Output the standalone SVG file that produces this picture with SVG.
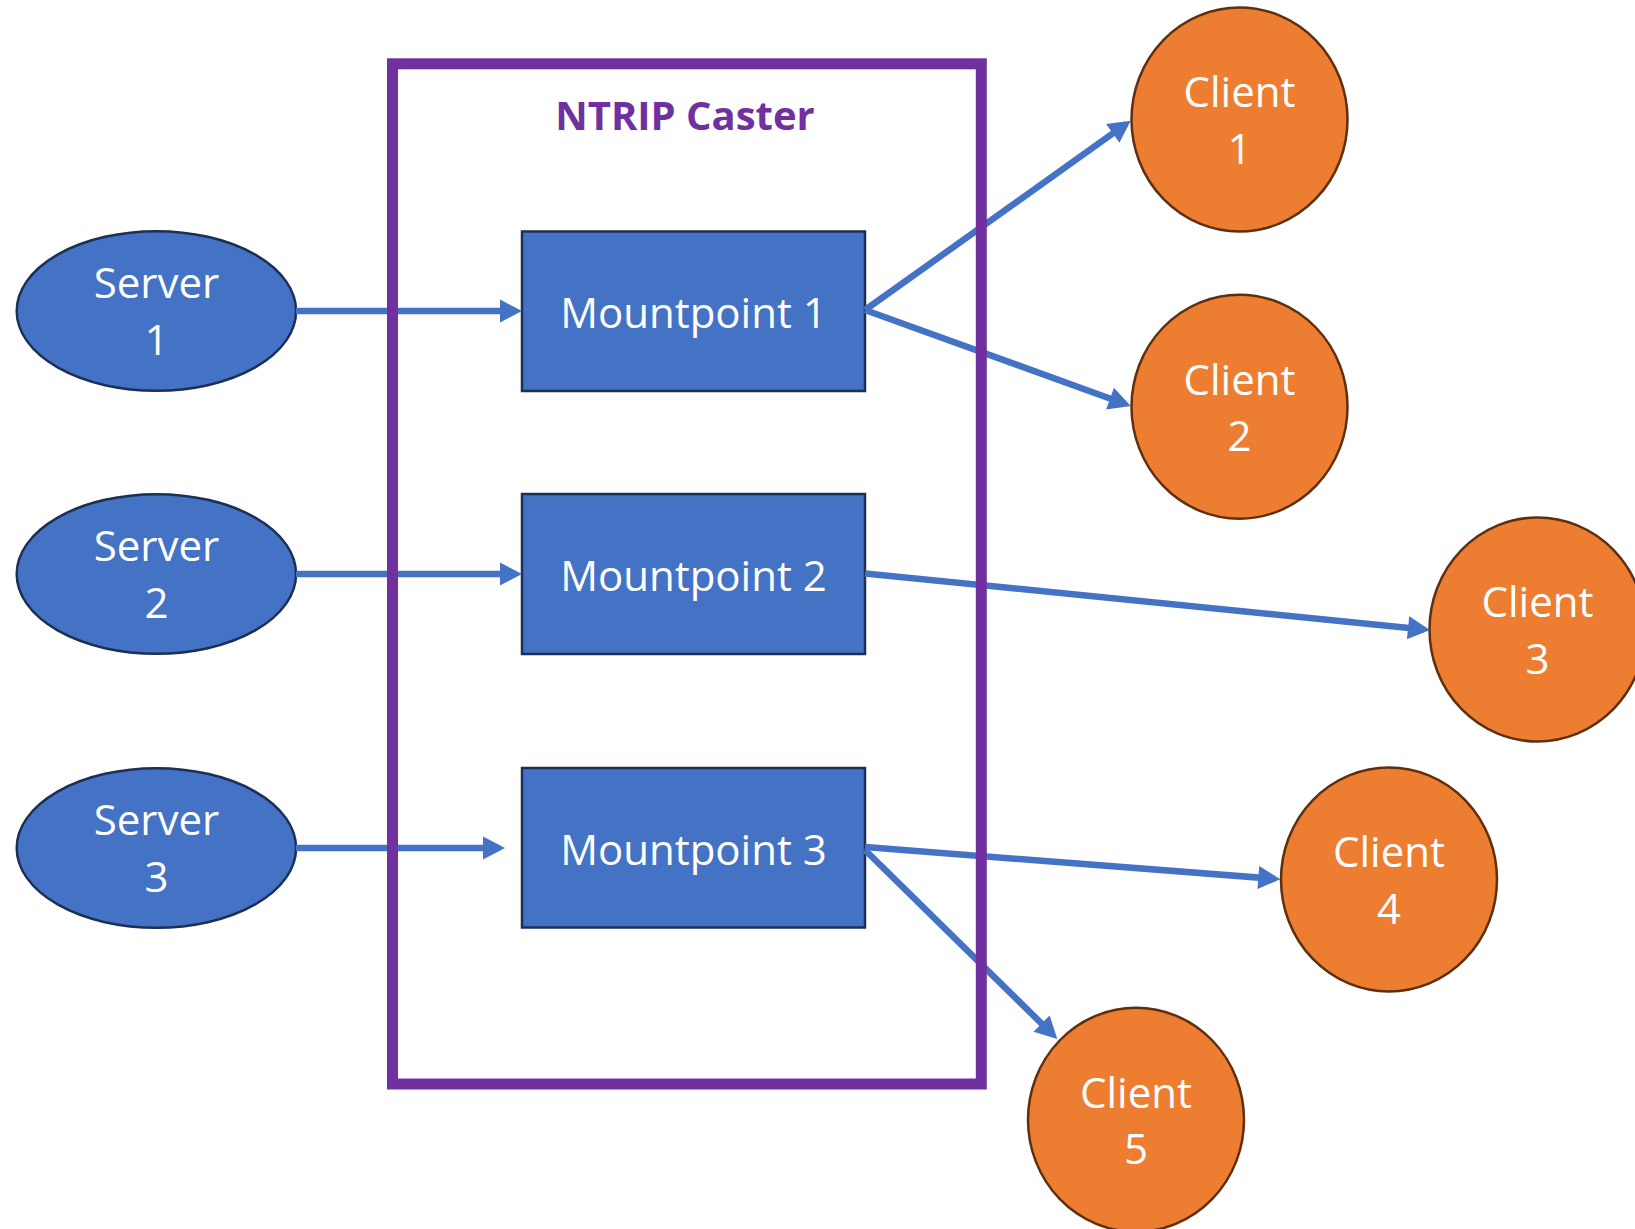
<svg xmlns="http://www.w3.org/2000/svg" width="1635" height="1229" viewBox="0 0 1635 1229">
<style>
.bg{fill:#ffffff}
.server ellipse{fill:#4472C4;stroke:#1c2f55;stroke-width:2.5}
.mp rect{fill:#4472C4;stroke:#1c2f55;stroke-width:2.5}
.client ellipse{fill:#ED7D31;stroke:#5f2f0e;stroke-width:2.5}
.lbl{font-family:"Open Sans","Noto Sans",sans-serif;font-size:42px;fill:#ffffff;text-anchor:middle}
.title{font-family:"Open Sans","Noto Sans",sans-serif;font-size:40px;font-weight:bold;fill:#7030A0;text-anchor:middle}
.conn line{stroke:#4472C4;stroke-width:6.5;fill:none;marker-end:url(#arr)}
.caster rect{fill:none;stroke:#7030A0;stroke-width:11}
</style>
<defs>
<marker id="arr" markerUnits="userSpaceOnUse" markerWidth="24" markerHeight="24" refX="16" refY="12" orient="auto" overflow="visible">
<path d="M0,0.5 L22,12 L0,23.5 Z" fill="#4472C4"/>
</marker>
</defs>
<rect class="bg" x="0" y="0" width="1635" height="1229"/>

<g id="server1" class="server"><ellipse cx="156.4" cy="311" rx="139.7" ry="79.8"/><text class="lbl" x="156.4" y="298.3">Server</text><text class="lbl" x="156.4" y="355">1</text></g>
<g id="server2" class="server"><ellipse cx="156.4" cy="574" rx="139.7" ry="79.8"/><text class="lbl" x="156.4" y="561.3">Server</text><text class="lbl" x="156.4" y="618">2</text></g>
<g id="server3" class="server"><ellipse cx="156.4" cy="848" rx="139.7" ry="79.8"/><text class="lbl" x="156.4" y="835.3">Server</text><text class="lbl" x="156.4" y="892">3</text></g>

<g id="mountpoint1" class="mp"><rect x="522" y="231.5" width="343" height="159.5"/><text class="lbl" x="693.5" y="328">Mountpoint 1</text></g>
<g id="mountpoint2" class="mp"><rect x="522" y="494" width="343" height="160"/><text class="lbl" x="693.5" y="591">Mountpoint 2</text></g>
<g id="mountpoint3" class="mp"><rect x="522" y="768" width="343" height="159.5"/><text class="lbl" x="693.5" y="865">Mountpoint 3</text></g>

<g id="client1" class="client"><ellipse cx="1239.5" cy="119.5" rx="108" ry="112"/><text class="lbl" x="1239.5" y="107.3">Client</text><text class="lbl" x="1239.5" y="164">1</text></g>
<g id="client2" class="client"><ellipse cx="1239.5" cy="406.7" rx="108" ry="112"/><text class="lbl" x="1239.5" y="394.5">Client</text><text class="lbl" x="1239.5" y="451.2">2</text></g>
<g id="client3" class="client"><ellipse cx="1537.5" cy="629.5" rx="108" ry="112"/><text class="lbl" x="1537.5" y="617.3">Client</text><text class="lbl" x="1537.5" y="674">3</text></g>
<g id="client4" class="client"><ellipse cx="1389" cy="879.5" rx="108" ry="112"/><text class="lbl" x="1389" y="867.3">Client</text><text class="lbl" x="1389" y="924">4</text></g>
<g id="client5" class="client"><ellipse cx="1136" cy="1119.7" rx="108" ry="112"/><text class="lbl" x="1136" y="1107.5">Client</text><text class="lbl" x="1136" y="1164.2">5</text></g>

<g id="connectors" class="conn">
<line x1="296" y1="311" x2="516" y2="311"/>
<line x1="296" y1="574" x2="516" y2="574"/>
<line x1="296" y1="848" x2="499" y2="848"/>
<line x1="865" y1="310" x2="1125.8" y2="124.2"/>
<line x1="865" y1="310" x2="1125.1" y2="404"/>
<line x1="865" y1="573.5" x2="1424" y2="629.4"/>
<line x1="865" y1="847" x2="1274.3" y2="878.8"/>
<line x1="865" y1="850" x2="1053" y2="1034.8"/>
</g>

<g id="ntrip-caster" class="caster"><rect x="392.5" y="63.8" width="588.8" height="1020.2"/><text class="title" x="685" y="130">NTRIP Caster</text></g>
</svg>
